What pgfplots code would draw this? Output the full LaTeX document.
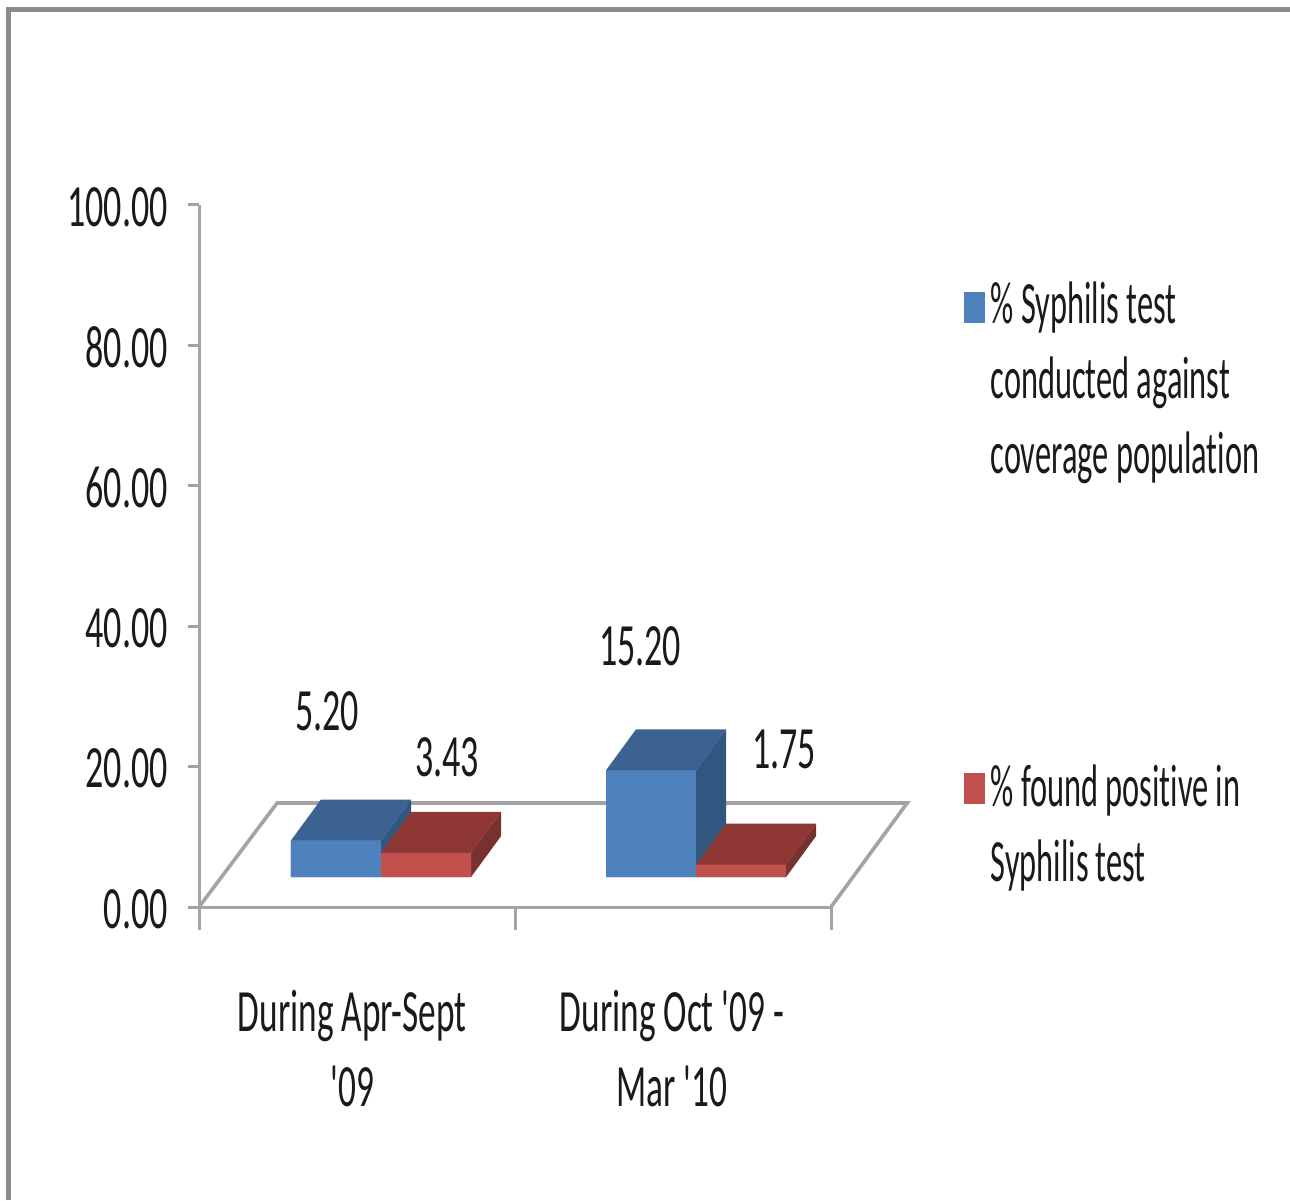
\documentclass[border=0pt]{standalone}
\usepackage{pgfplots}
\usepackage{fontspec}
\pgfplotsset{compat=1.18}
\newfontfamily\cf{Carlito}[FakeStretch=0.6]
\newfontfamily\xf{Carlito}[FakeStretch=0.588]
\newfontfamily\lf{Carlito}[FakeStretch=0.54,Ligatures=NoCommon]
\definecolor{axgray}{HTML}{A3A3A3}
\definecolor{framegray}{HTML}{8C8C8C}
\definecolor{bfront}{HTML}{4F81BD}
\definecolor{btop}{HTML}{3B6291}
\definecolor{bside}{HTML}{31567F}
\definecolor{rfront}{HTML}{C0504D}
\definecolor{rtop}{HTML}{8E3735}
\definecolor{rside}{HTML}{773230}
\definecolor{txt}{HTML}{1A1A1A}
\pgfplotsset{
  front/.style={draw=none,fill=#1,forget plot,yshift=15pt},
}
\begin{document}
\cf\fontsize{30pt}{37.5pt}\selectfont
\begin{tikzpicture}[x=1pt,y=1pt,text=txt]
\path[use as bounding box] (0,0) rectangle (645,600);
\draw[framegray,line width=2.5pt] (4,0) -- (4,595) -- (645,595);
\begin{axis}[
  at={(99.5pt,146.5pt)},
  anchor=south west,
  scale only axis,
  width=316pt,height=351pt,
  xmin=0,xmax=2,ymin=0,ymax=100,
  clip=false,
  axis x line=bottom,axis y line=left,
  axis line style={-,axgray,line width=1.5pt},
  tick align=outside,
  tick style={axgray,line width=1.5pt},
  major tick length=5.5pt,
  minor tick length=11.5pt,
  ytick={0,20,40,60,80,100},
  yticklabel style={yshift=-1pt,/pgf/number format/.cd,fixed,fixed zerofill,precision=2,assume math mode=true},
  xtick={0.485,1.497},
  xticklabels={During Apr-Sept\\'09,During Oct '09 -\\Mar '10},
  xticklabel style={align=center,yshift=-26pt,font=\xf},
  major x tick style={draw=none},
  minor xtick={0,1,2},
  legend style={draw=none,fill=none,at={(rel axis cs:1.2,0.897)},anchor=north west,
    row sep=141pt,nodes={align=left,inner sep=0pt,font=\lf},
    /tikz/every odd column/.style={column sep=3pt}},
  legend cell align=left,
]
% floor
\addplot[axgray,line width=1.8pt,forget plot] coordinates {(0,0)(0.247,14.81)(2.241,14.81)(2,0)};
% blue, During Apr-Sept '09 = 5.20
\addplot[front=btop] coordinates {(0.291,5.2)(0.386,11.04)(0.671,11.04)(0.576,5.2)} \closedcycle;
\addplot[front=bside] coordinates {(0.576,0)(0.671,5.84)(0.671,11.04)(0.576,5.2)} \closedcycle;
\addplot[front=bfront] coordinates {(0.291,0)(0.291,5.2)(0.576,5.2)(0.576,0)} \closedcycle;
% red, During Apr-Sept '09 = 3.43
\addplot[front=rtop] coordinates {(0.576,3.43)(0.671,9.27)(0.956,9.27)(0.861,3.43)} \closedcycle;
\addplot[front=rside] coordinates {(0.861,0)(0.956,5.84)(0.956,9.27)(0.861,3.43)} \closedcycle;
\addplot[front=rfront] coordinates {(0.576,0)(0.576,3.43)(0.861,3.43)(0.861,0)} \closedcycle;
% blue, During Oct '09 - Mar '10 = 15.20
\addplot[front=btop] coordinates {(1.288,15.2)(1.383,21.04)(1.668,21.04)(1.573,15.2)} \closedcycle;
\addplot[front=bside] coordinates {(1.573,0)(1.668,5.84)(1.668,21.04)(1.573,15.2)} \closedcycle;
\addplot[front=bfront] coordinates {(1.288,0)(1.288,15.2)(1.573,15.2)(1.573,0)} \closedcycle;
% red, During Oct '09 - Mar '10 = 1.75
\addplot[front=rtop] coordinates {(1.573,1.75)(1.668,7.59)(1.953,7.59)(1.858,1.75)} \closedcycle;
\addplot[front=rside] coordinates {(1.858,0)(1.953,5.84)(1.953,7.59)(1.858,1.75)} \closedcycle;
\addplot[front=rfront] coordinates {(1.573,0)(1.573,1.75)(1.858,1.75)(1.858,0)} \closedcycle;
% data labels
\node at (axis cs:0.405,27.9) {5.20};
\node at (axis cs:0.785,21.4) {3.43};
\node at (axis cs:1.396,37.1) {15.20};
\node at (axis cs:1.851,22.4) {1.75};
% legend
\addlegendimage{legend image code/.code={\fill[bfront] (-0.5pt,30pt) rectangle (9.5pt,45pt);}}
\addlegendentry{\% Syphilis test\\conducted against\\coverage population}
\addlegendimage{legend image code/.code={\fill[rfront] (-0.5pt,12pt) rectangle (9.5pt,27pt);}}
\addlegendentry{\% found positive in\\Syphilis test}
\end{axis}
\end{tikzpicture}
\end{document}
